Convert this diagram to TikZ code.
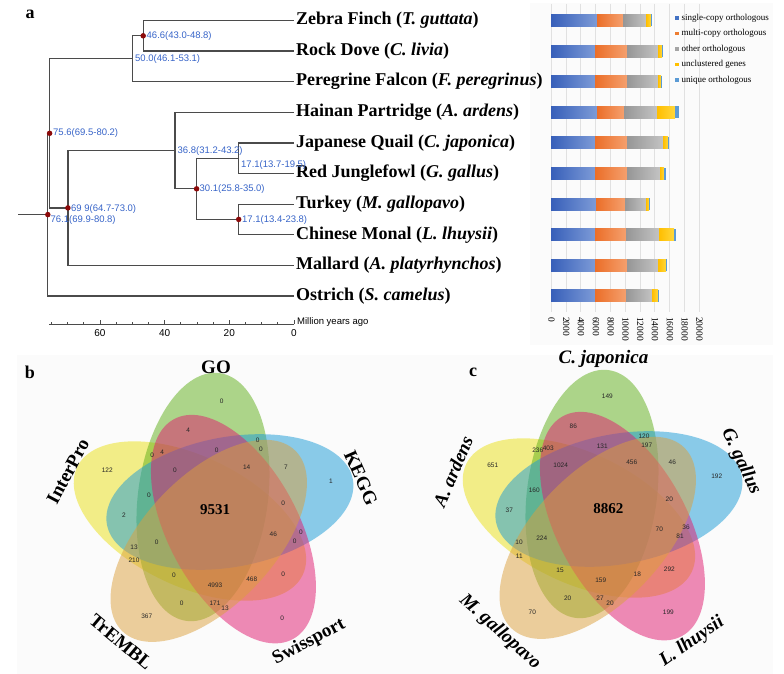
\documentclass[tikz,border=0pt]{standalone}
\usepackage{fontspec}
\setmainfont{Liberation Serif}
\setsansfont{Liberation Sans}
\definecolor{agecol}{RGB}{55,100,200}
\definecolor{dotcol}{RGB}{140,10,10}
\definecolor{linecol}{RGB}{75,75,75}
\definecolor{gridcol}{RGB}{225,225,225}
\definecolor{barblue}{RGB}{68,114,196}
\definecolor{barorange}{RGB}{237,125,49}
\definecolor{bargray}{RGB}{165,165,165}
\definecolor{baryellow}{RGB}{255,192,0}
\definecolor{barlight}{RGB}{91,155,213}
\definecolor{vgreen}{RGB}{95,175,25}
\definecolor{vblue}{RGB}{25,155,215}
\definecolor{vpink}{RGB}{225,25,110}
\definecolor{vtan}{RGB}{220,160,60}
\definecolor{vyellow}{RGB}{235,225,20}
\tikzset{
  species/.style={anchor=west, inner sep=2pt, font=\bfseries\fontsize{18}{18}\selectfont},
  age/.style={anchor=west, inner sep=0pt, text=agecol, font=\sffamily\fontsize{9.5}{9.5}\selectfont},
  branch/.style={linecol, line width=1.2pt},
  dot/.style={circle, fill=dotcol, inner sep=0pt, minimum size=5.5pt},
  ticklab/.style={font=\sffamily\fontsize{10}{10}\selectfont, inner sep=0pt},
  barlab/.style={rotate=-90, anchor=west, inner sep=0pt, font=\fontsize{9.5}{9.5}\selectfont},
  legend/.style={anchor=west, inner sep=0pt, font=\fontsize{9}{9}\selectfont},
  sblue/.style={left color={rgb,255:red,55;green,95;blue,185}, right color={rgb,255:red,125;green,155;blue,215}},
  sorange/.style={left color={rgb,255:red,235;green,110;blue,40}, right color={rgb,255:red,245;green,160;blue,110}},
  sgray/.style={left color={rgb,255:red,150;green,150;blue,150}, right color={rgb,255:red,195;green,195;blue,195}},
  syellow/.style={left color={rgb,255:red,255;green,190;blue,0}, right color={rgb,255:red,255;green,215;blue,60}},
  cnt/.style={font=\sffamily\fontsize{6.5}{6.5}\selectfont, inner sep=0pt, text=black!85},
  core/.style={font=\bfseries\fontsize{15}{15}\selectfont, inner sep=0pt},
  setname/.style={font=\bfseries\fontsize{19}{19}\selectfont, inner sep=0pt},
  panel/.style={font=\bfseries\fontsize{18}{18}\selectfont, inner sep=0pt},
}
\begin{document}
\begin{tikzpicture}[x=1pt,y=-1pt]
\useasboundingbox (0,0) rectangle (784,674);
\fill[gray!3] (530,3) rectangle (773,345);
\fill[gray!3] (17,355) rectangle (773,674);

% a: tree
\node[panel] (pa) at (30,14) {a};
\node[species] (zebra) at (294,20.5) {Zebra Finch (\textit{T. guttata})};
\node[species] (dove) at (294,51.1) {Rock Dove (\textit{C. livia})};
\node[species] (falcon) at (294,81.7) {Peregrine Falcon (\textit{F. peregrinus})};
\node[species] (partridge) at (294,112.3) {Hainan Partridge (\textit{A. ardens})};
\node[species] (quail) at (294,142.9) {Japanese Quail (\textit{C. japonica})};
\node[species] (fowl) at (294,173.5) {Red Junglefowl (\textit{G. gallus})};
\node[species] (turkey) at (294,204.1) {Turkey (\textit{M. gallopavo})};
\node[species] (monal) at (294,234.7) {Chinese Monal (\textit{L. lhuysii})};
\node[species] (mallard) at (294,265.3) {Mallard (\textit{A. platyrhynchos})};
\node[species] (ostrich) at (294,295.9) {Ostrich (\textit{S. camelus})};
\coordinate (stem) at (18,214.6);
\coordinate (n761) at (47.8,214.6);
\coordinate (n756) at (49.6,133.3);
\coordinate (n500) at (132.3,58.75);
\coordinate (n466) at (143.2,35.8);
\coordinate (n699) at (67.9,207.9);
\coordinate (n368) at (175,150.55);
\coordinate (n301) at (196.6,188.8);
\coordinate (n171a) at (238.7,158.2);
\coordinate (n171b) at (238.7,219.4);
\draw[branch] (stem) -- (n761);
\draw[branch] (n761) |- (n756);
\draw[branch] (n761) |- (ostrich.west);
\draw[branch] (n756) |- (n500);
\draw[branch] (n756) |- (n699);
\draw[branch] (n500) |- (n466);
\draw[branch] (n500) |- (falcon.west);
\draw[branch] (n466) |- (zebra.west);
\draw[branch] (n466) |- (dove.west);
\draw[branch] (n699) |- (n368);
\draw[branch] (n699) |- (mallard.west);
\draw[branch] (n368) |- (partridge.west);
\draw[branch] (n368) |- (n301);
\draw[branch] (n301) |- (n171a);
\draw[branch] (n301) |- (n171b);
\draw[branch] (n171a) |- (quail.west);
\draw[branch] (n171a) |- (fowl.west);
\draw[branch] (n171b) |- (turkey.west);
\draw[branch] (n171b) |- (monal.west);
\node[dot] (d761) at (n761) {};
\node[dot] (d756) at (n756) {};
\node[dot] (d466) at (n466) {};
\node[dot] (d699) at (n699) {};
\node[dot] (d301) at (n301) {};
\node[dot] (d171b) at (n171b) {};
\node[age] (l466) at (146.5,35.8) {46.6(43.0-48.8)};
\node[age] (l500) at (135,59.5) {50.0(46.1-53.1)};
\node[age] (l756) at (53,133.3) {75.6(69.5-80.2)};
\node[age] (l699) at (71,209) {69 9(64.7-73.0)};
\node[age] (l761) at (50.5,220.5) {76.1(69.9-80.8)};
\node[age] (l368) at (177.5,151.5) {36.8(31.2-43.2)};
\node[age] (l171a) at (241,164.7) {17.1(13.7-19.5)};
\node[age] (l301) at (199.5,188.8) {30.1(25.8-35.0)};
\node[age] (l171b) at (242,219.8) {17.1(13.4-23.8)};

% time axis
\coordinate (ax0) at (294,324);
\coordinate (ax76) at (49,324);
\draw[linecol, line width=0.8pt] (ax76) -- (ax0);
\foreach \a in {0,5,...,75}
  \draw[linecol, line width=0.8pt] (294-3.235*\a,324) -- ++(0,-2.5);
\foreach \a in {0,20,40,60}
  \draw[linecol, line width=0.8pt] (294-3.235*\a,324) -- ++(0,-4);
\foreach \a in {0,20,40,60}
  \node[ticklab] (t\a) at (294-3.235*\a,333.5) {\a};
\node[ticklab, anchor=west, font=\sffamily\fontsize{9.5}{9.5}\selectfont] (myr) at (297,322) {Million years ago};

% a: gene counts
\foreach \k in {0,...,10}
  \draw[gridcol, line width=0.6pt] (551+14.8*\k,4) -- (551+14.8*\k,312);
\foreach \y/\a/\b/\c/\d/\e in {20.5/597/623/646/651/652, 51.1/595/627/658/662/662.6,
    81.7/595/627/658/661/661.6, 112.3/597/624/657/675/679, 142.9/595/627/663/668/669,
    173.5/595/627/660/664/666, 204.1/596/625/646/649/649.6, 234.7/595/626/659/674/676,
    265.3/595/627/658/666/666.6, 295.9/595/626/652/658/658.6}{
  \path[sblue] (551,\y-6) rectangle (\a,\y+6);
  \path[sorange] (\a,\y-6) rectangle (\b,\y+6);
  \path[sgray] (\b,\y-6) rectangle (\c,\y+6);
  \path[syellow] (\c,\y-6) rectangle (\d,\y+6);
  \fill[barlight] (\d,\y-6) rectangle (\e,\y+6);
}
\foreach \v [count=\k from 0] in {0,2000,4000,6000,8000,10000,12000,14000,16000,18000,20000}
  \node[barlab] (bx\k) at (551.5+14.8*\k,317) {\v};
\foreach \t/\c [count=\i from 0] in {single-copy orthologous/barblue, multi-copy orthologous/barorange,
    other orthologous/bargray, unclustered genes/baryellow, unique orthologous/barlight}{
  \fill[\c] (675,16.3+15.5*\i) rectangle ++(3.5,3.5);
  \node[legend] (lg\i) at (681.5,18+15.5*\i) {\t};
}

% b: annotation venn
\node[panel] (pb) at (30,372) {b};
\begin{scope}[shift={(213,518)}]
  \foreach \k/\col in {4/vyellow,0/vgreen,1/vblue,2/vpink,3/vtan}
    \fill[\col, opacity=.5, rotate=-72*\k, shift={(-10,-21)}, rotate=-7.6] (0,0) ellipse [x radius=65pt, y radius=125pt];
\end{scope}
\foreach \x/\y/\t [count=\i] in {221.7/401.7/0, 188.3/430/4, 257.7/440/0, 261/449.3/0, 152.3/455.7/0,
    162.3/452.7/4, 216.7/450.7/0, 107.3/470/122, 175/470/0, 246.7/467.3/14, 286/467.3/7, 331/481/1,
    149/495.7/0, 283.3/503.3/0, 124/515/2, 273.3/534.3/46, 301/532.7/0, 294.7/541.7/0, 156.7/542.3/0,
    134/547.3/13, 134/560.7/210, 174/575.7/0, 251.7/579/468, 283.3/574/0, 215/585.7/4993,
    181.7/603.3/0, 215/603.3/171, 225/608.3/13, 146.7/616.7/367, 282.3/618.3/0}
  \node[cnt] (b\i) at (\x,\y) {\t};
\node[core] (bcore) at (215,510) {9531};
\node[setname] (go) at (216,367.5) {GO};
\node[setname, rotate=-66] (kegg) at (361,478) {KEGG};
\node[setname, rotate=28] (swiss) at (309,642) {Swissport};
\node[setname, rotate=-40] (trembl) at (121,642) {TrEMBL};
\node[setname, rotate=62] (interpro) at (68,471.5) {InterPro};

% c: species venn
\node[panel] (pc) at (473,372) {c};
\begin{scope}[shift={(602,515)}]
  \foreach \k/\col in {4/vyellow,0/vgreen,1/vblue,2/vpink,3/vtan}
    \fill[\col, opacity=.5, rotate=-72*\k, shift={(-10,-21)}, rotate=-7.6] (0,0) ellipse [x radius=65pt, y radius=125pt];
\end{scope}
\foreach \x/\y/\t [count=\i] in {607.3/396.7/149, 573.3/426/86, 644/436/120, 646.7/445/197, 537.7/450/236,
    548.3/448.3/403, 602.3/446/131, 492.7/465.7/651, 560.7/465/1024, 631.7/462.3/456, 672.3/462.7/46,
    716.7/476/192, 534.3/490.7/160, 669.3/499/20, 509.3/510.3/37, 659.3/529.3/70, 686/527.7/36,
    680/536.7/81, 519/542.7/10, 541.7/538.3/224, 519.3/556.7/11, 560/570.7/15, 637.3/574.3/18,
    669.3/569.3/292, 600.7/580/159, 567.7/598.3/20, 600/598.3/27, 610/603.3/20, 532.3/612.3/70,
    668.3/612.7/199}
  \node[cnt] (c\i) at (\x,\y) {\t};
\node[core] (ccore) at (608.3,509) {8862};
\node[setname] (japonica) at (603.5,358.5) {\textit{C. japonica}};
\node[setname, rotate=-65] (gallus) at (741,461.5) {\textit{G. gallus}};
\node[setname, rotate=35] (lhuysii) at (692,642) {\textit{L. lhuysii}};
\node[setname, rotate=-42] (gallopavo) at (500,632) {\textit{M. gallopavo}};
\node[setname, rotate=67] (ardens) at (453,471.5) {\textit{A. ardens}};
\end{tikzpicture}
\end{document}
